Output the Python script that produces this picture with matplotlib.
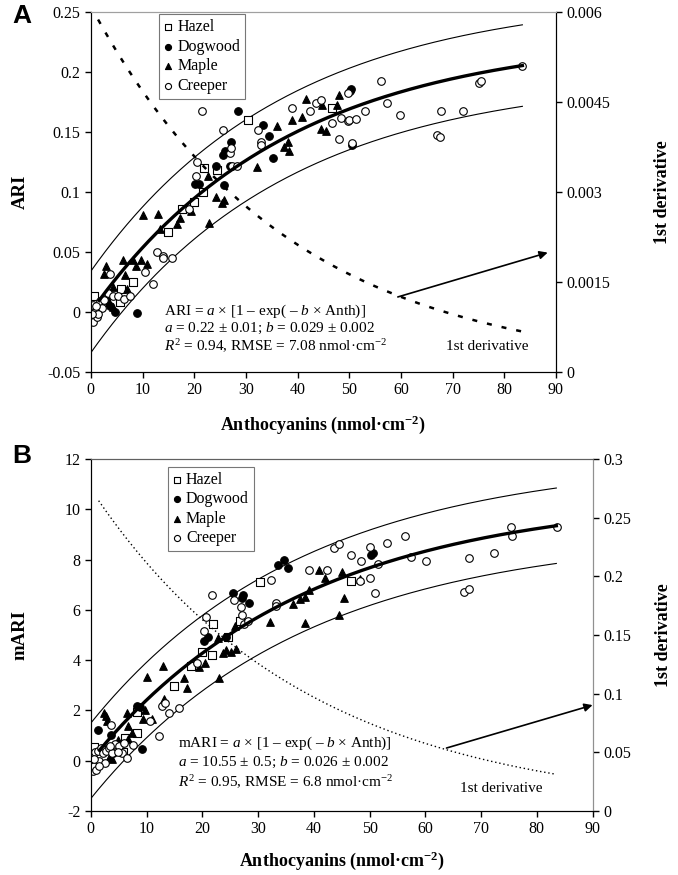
import numpy as np
import matplotlib
matplotlib.use("Agg")
import matplotlib.pyplot as plt

plt.rcParams['font.family'] = ['Liberation Serif', 'DejaVu Serif']
plt.rcParams['mathtext.fontset'] = 'custom'
plt.rcParams['mathtext.rm'] = 'Liberation Serif'
plt.rcParams['mathtext.it'] = 'Liberation Serif:italic'
plt.rcParams['mathtext.bf'] = 'Liberation Serif:bold'
plt.rcParams['axes.unicode_minus'] = False

# ---------------- panel A data (Anthocyanins, ARI) ----------------
hazel_a_x = [0.6, 5.6, 5.9, 8.2, 15.0, 17.7, 20.0, 21.7, 21.9, 24.4, 30.4, 46.6]
hazel_a_y = [0.013, 0.008, 0.019, 0.025, 0.067, 0.086, 0.092, 0.100, 0.120, 0.118, 0.160, 0.170]

dogwood_a_x = [3.0, 3.8, 4.6, 9.0, 20.1, 21.0, 24.2, 25.7, 25.6, 25.9, 26.9, 27.2,
               28.4, 33.4, 34.4, 35.2, 50.1, 50.4, 50.6]
dogwood_a_y = [0.010, 0.005, 0.000, -0.001, 0.107, 0.107, 0.122, 0.106, 0.131, 0.134, 0.122, 0.142,
               0.168, 0.156, 0.147, 0.128, 0.184, 0.186, 0.139]

maple_a_x = [2.5, 2.9, 3.5, 4.2, 4.3, 6.3, 6.6, 6.9, 8.1, 8.8, 9.8, 10.8, 10.1, 13.0, 13.4,
             16.6, 17.2, 19.3, 22.6, 22.9, 24.3, 25.3, 25.8, 32.2, 36.1, 37.4, 38.2, 38.3,
             39.0, 40.8, 41.7, 44.6, 44.8, 45.5, 47.6, 48.1]
maple_a_y = [0.032, 0.038, 0.008, 0.004, 0.021, 0.043, 0.031, 0.019, 0.043, 0.038, 0.043, 0.040,
             0.081, 0.082, 0.069, 0.073, 0.078, 0.084, 0.113, 0.074, 0.096, 0.091, 0.093, 0.121,
             0.155, 0.138, 0.142, 0.134, 0.160, 0.163, 0.178, 0.153, 0.173, 0.151, 0.173, 0.181]

creeper_a_x = [0.0, 0.1, 0.45, 1.1, 1.7, 2.1, 0.8, 1.3, 0.5, 0.3, 1.0, 2.5, 3.4, 3.8, 4.3,
               5.3, 6.4, 7.5, 10.5, 12.1, 12.8, 13.9, 14.0, 15.7, 19.0, 20.3, 20.6, 21.6,
               25.6, 26.9, 27.2, 27.4, 28.2, 32.3, 33.0, 33.0, 39.0, 42.4, 43.6, 44.6, 46.6,
               48.0, 48.4, 49.8, 49.8, 50.0, 50.6, 51.4, 53.1, 56.1, 57.3, 59.9, 67.0, 67.5,
               67.7, 72.1, 75.1, 75.4, 83.4]
creeper_a_y = [0.002, -0.005, -0.008, -0.004, 0.009, 0.003, 0.000, -0.002, 0.006, -0.002, 0.005,
               0.010, 0.016, 0.032, 0.013, 0.013, 0.011, 0.013, 0.033, 0.023, 0.050, 0.047,
               0.045, 0.045, 0.086, 0.113, 0.125, 0.168, 0.152, 0.133, 0.137, 0.122, 0.122,
               0.152, 0.142, 0.139, 0.170, 0.168, 0.174, 0.177, 0.158, 0.144, 0.162, 0.183,
               0.159, 0.160, 0.141, 0.161, 0.168, 0.193, 0.174, 0.164, 0.148, 0.146, 0.168,
               0.168, 0.191, 0.193, 0.205]

# ---------------- panel B data (Anthocyanins, mARI) ----------------
hazel_b_x = [0.6, 5.7, 6.1, 8.2, 8.3, 14.9, 17.9, 20.0, 21.8, 21.9, 24.6, 26.7, 30.3, 46.6]
hazel_b_y = [0.56, 0.36, 0.89, 1.10, 1.95, 2.99, 3.77, 4.34, 4.21, 5.44, 4.94, 5.54, 7.09, 7.16]

dogwood_b_x = [1.2, 3.7, 3.0, 4.0, 8.2, 8.8, 9.1, 20.3, 21.0, 24.3, 25.5, 27.1, 27.3, 28.3,
               33.5, 34.7, 35.3, 50.3, 50.6]
dogwood_b_y = [1.23, 1.03, 0.50, 0.30, 2.19, 2.14, 0.47, 4.78, 4.94, 4.94, 6.69, 6.47, 6.59, 6.26,
               7.79, 7.99, 7.65, 8.19, 8.28]

maple_b_x = [2.4, 2.8, 2.9, 3.5, 3.8, 4.9, 6.4, 6.6, 6.7, 7.3, 9.4, 9.8, 10.0, 10.9, 13.0,
             13.1, 16.7, 17.2, 19.4, 20.4, 22.8, 23.0, 23.7, 24.3, 25.2, 26.1, 25.8, 32.1,
             36.3, 37.5, 38.4, 38.4, 39.1, 40.9, 42.0, 44.6, 45.1, 45.5, 48.2]
maple_b_y = [1.89, 1.76, 1.60, 0.20, 0.05, 0.83, 1.88, 1.39, 0.85, 1.10, 1.68, 2.02, 3.35, 1.68,
             3.77, 2.44, 3.31, 2.88, 3.72, 3.90, 4.87, 3.31, 4.27, 4.41, 4.34, 4.44, 5.34, 5.51,
             6.23, 6.42, 6.53, 5.47, 6.80, 7.59, 7.26, 5.80, 7.52, 6.47, 7.22]

creeper_b_x = [0.1, 0.2, 0.4, 0.6, 0.3, 0.8, 1.2, 1.5, 1.8, 2.2, 2.7, 3.2, 3.8, 4.4, 5.0,
               6.0, 2.5, 1.0, 0.5, 1.4, 3.5, 5.5, 3.7, 4.9, 6.4, 7.6, 10.6, 12.2, 12.8, 13.3,
               14.0, 15.9, 19.0, 20.3, 20.6, 21.7, 25.7, 27.0, 27.2, 27.4, 28.2, 32.4, 33.2,
               33.2, 39.1, 42.4, 43.6, 44.5, 46.7, 48.2, 48.5, 50.0, 50.0, 50.9, 51.5, 53.1,
               56.3, 57.5, 60.2, 67.0, 67.8, 67.9, 72.3, 75.3, 75.6, 83.7]
creeper_b_y = [0.10, -0.30, -0.40, -0.20, 0.25, 0.35, 0.40, 0.00, 0.50, 0.30, 0.40, 0.50, 0.30,
               0.65, 0.60, 0.70, -0.10, -0.35, 0.05, -0.20, 0.60, 0.30, 1.43, 0.36, 0.09, 0.63,
               1.58, 1.00, 2.18, 2.28, 1.88, 2.10, 3.87, 5.17, 5.70, 6.59, 6.39, 6.13, 5.79,
               5.44, 5.54, 7.19, 6.26, 6.15, 7.59, 7.59, 8.46, 8.63, 8.19, 7.13, 7.96, 8.52,
               7.26, 6.66, 7.81, 8.66, 8.94, 8.11, 7.96, 6.73, 6.84, 8.06, 8.28, 9.28, 8.95, 9.31]

# fitted model curves as drawn (a, b), prediction band half width, derivative (amp, rate)
fit_a = (0.231, 0.0264)
band_a = 0.034
deriv_a = (0.0061, 0.0264)
fit_b = (10.55, 0.026)
band_b = 1.5
deriv_b = (0.2743, 0.026)
x_max = 83.5

eq_a = ["ARI = $a$ × [1 – exp( – $b$ × Anth)]",
        "$a$ = 0.22 ± 0.01; $b$ = 0.029 ± 0.002",
        "$R^2$ = 0.94, RMSE = 7.08 nmol·cm$^{-2}$"]
eq_b = ["mARI = $a$ × [1 – exp( – $b$ × Anth)]",
        "$a$ = 10.55 ± 0.5; $b$ = 0.026 ± 0.002",
        "$R^2$ = 0.95, RMSE = 6.8 nmol·cm$^{-2}$"]

TICK = 11.5
TXT = 11
LAB = 13

fig = plt.figure(figsize=(6.78, 8.75), dpi=100)
ax_a = fig.add_axes([0.134, 0.575, 0.686, 0.411])
ax_b = fig.add_axes([0.134, 0.0731, 0.740, 0.4023])


def draw_panel(ax, series, fit, band, deriv, left_ticks, left_labels, right_ticks,
               right_labels, ylabel, eq, eq_pos, deriv_text, arrow, dstyle, dlw):
    mk = dict(s=30, linewidths=0.8, zorder=3)
    hx, hy, dx, dy, mx, my, cx, cy = series
    ax.scatter(hx, hy, marker='s', facecolors='white', edgecolors='black', label='Hazel', s=26,
               linewidths=0.8, zorder=3)
    ax.scatter(dx, dy, marker='o', facecolors='black', edgecolors='black', label='Dogwood', **mk)
    ax.scatter(mx, my, marker='^', facecolors='black', edgecolors='black', label='Maple', **mk)
    ax.scatter(cx, cy, marker='o', facecolors='white', edgecolors='black', label='Creeper', **mk)

    xs = np.linspace(0, x_max, 300)
    fx = fit[0] * (1 - np.exp(-fit[1] * xs))
    ax.plot(xs, fx + band, color='black', lw=0.8, zorder=2)
    ax.plot(xs, fx - band, color='black', lw=0.8, zorder=2)
    xt = np.linspace(1.6, x_max, 300)
    ax.plot(xt, fit[0] * (1 - np.exp(-fit[1] * xt)), color='black', lw=2.4, zorder=4)

    ax.set_xlim(0, 90)
    ax.set_xticks(range(0, 91, 10))
    ax.set_ylim(left_ticks[0], left_ticks[-1])
    ax.set_yticks(left_ticks)
    ax.set_yticklabels(left_labels)
    ax.tick_params(direction='out', length=4, labelsize=TICK, width=1)
    ax.set_xlabel('Anthocyanins (nmol·cm$^{\\mathbf{-2}}$)', fontsize=LAB, fontweight='bold')
    ax.set_ylabel(ylabel, fontsize=LAB + 0.5, fontweight='bold')

    leg = ax.legend(loc='upper left', bbox_to_anchor=eq_pos['leg'], fontsize=TXT + 0.5,
                    frameon=True, fancybox=False, handletextpad=0.25, handlelength=0.6,
                    labelspacing=0.22, borderpad=0.3, borderaxespad=0, markerscale=0.8)
    leg.get_frame().set_edgecolor('#555555')
    leg.get_frame().set_linewidth(0.8)

    for txt, yy in zip(eq, eq_pos['ys']):
        ax.text(eq_pos['x'], yy, txt, fontsize=TXT, va='center', ha='left')

    ax2 = ax.twinx()
    xd = np.linspace(1.4, x_max, 300)
    ax2.plot(xd, deriv[0] * np.exp(-deriv[1] * xd), color='black', lw=dlw, linestyle=dstyle)
    ax2.set_ylim(right_ticks[0], right_ticks[-1])
    ax2.set_yticks(right_ticks)
    ax2.set_yticklabels(right_labels)
    ax2.tick_params(direction='out', length=4, labelsize=TICK, width=1)
    ax2.set_ylabel('1st derivative', fontsize=LAB, fontweight='bold')
    ax2.annotate('', xy=arrow[1], xytext=arrow[0],
                 arrowprops=dict(arrowstyle='-|>', color='black', lw=1.2,
                                 mutation_scale=12, shrinkA=0, shrinkB=0),
                 annotation_clip=False)
    ax.text(deriv_text[0], deriv_text[1], '1st derivative', fontsize=TXT, ha='center',
            va='center')
    return ax2


ax2_a = draw_panel(ax_a,
                   (hazel_a_x, hazel_a_y, dogwood_a_x, dogwood_a_y, maple_a_x, maple_a_y,
                    creeper_a_x, creeper_a_y),
                   fit_a, band_a, deriv_a,
                   [-0.05, 0, 0.05, 0.1, 0.15, 0.2, 0.25],
                   ['-0.05', '0', '0.05', '0.1', '0.15', '0.2', '0.25'],
                   [0, 0.0015, 0.003, 0.0045, 0.006],
                   ['0', '0.0015', '0.003', '0.0045', '0.006'],
                   'ARI', eq_a, {'x': 14.2, 'ys': [0.0003, -0.0137, -0.029],
                                 'leg': (0.146, 0.994)},
                   (76.8, -0.029), ((59.4, 0.00125), (88.4, 0.00199)), (0, (2, 4)), 1.8)

ax2_b = draw_panel(ax_b,
                   (hazel_b_x, hazel_b_y, dogwood_b_x, dogwood_b_y, maple_b_x, maple_b_y,
                    creeper_b_x, creeper_b_y),
                   fit_b, band_b, deriv_b,
                   [-2, 0, 2, 4, 6, 8, 10, 12],
                   ['-2', '0', '2', '4', '6', '8', '10', '12'],
                   [0, 0.05, 0.1, 0.15, 0.2, 0.25, 0.3],
                   ['0', '0.05', '0.1', '0.15', '0.2', '0.25', '0.3'],
                   'mARI', eq_b, {'x': 15.6, 'ys': [0.69, -0.06, -0.85],
                                  'leg': (0.153, 0.977)},
                   (73.7, -1.09), ((63.8, 0.0537), (90.0, 0.0903)), (0, (1, 2)), 1.0)

# axis label placement
ax_a.yaxis.set_label_coords(-0.133, 0.5)
ax_b.yaxis.set_label_coords(-0.124, 0.5)
ax_a.xaxis.set_label_coords(0.5, -0.115)
ax_b.xaxis.set_label_coords(0.5, -0.108)
ax2_a.yaxis.set_label_coords(1.21, 0.5)
ax2_b.yaxis.set_label_coords(1.125, 0.5)

# spine colours
for a in (ax_a, ax2_a):
    a.spines['top'].set_color('#a0a0a0')
for a in (ax_b, ax2_b):
    a.spines['top'].set_color('#606060')
    a.spines['right'].set_color('#909090')

fig.text(0.018, 0.982, 'A', fontsize=19, fontweight='bold', family='Liberation Sans',
         va='center', ha='left')
fig.text(0.018, 0.479, 'B', fontsize=19, fontweight='bold', family='Liberation Sans',
         va='center', ha='left')

fig.savefig('out.png', dpi=100)
